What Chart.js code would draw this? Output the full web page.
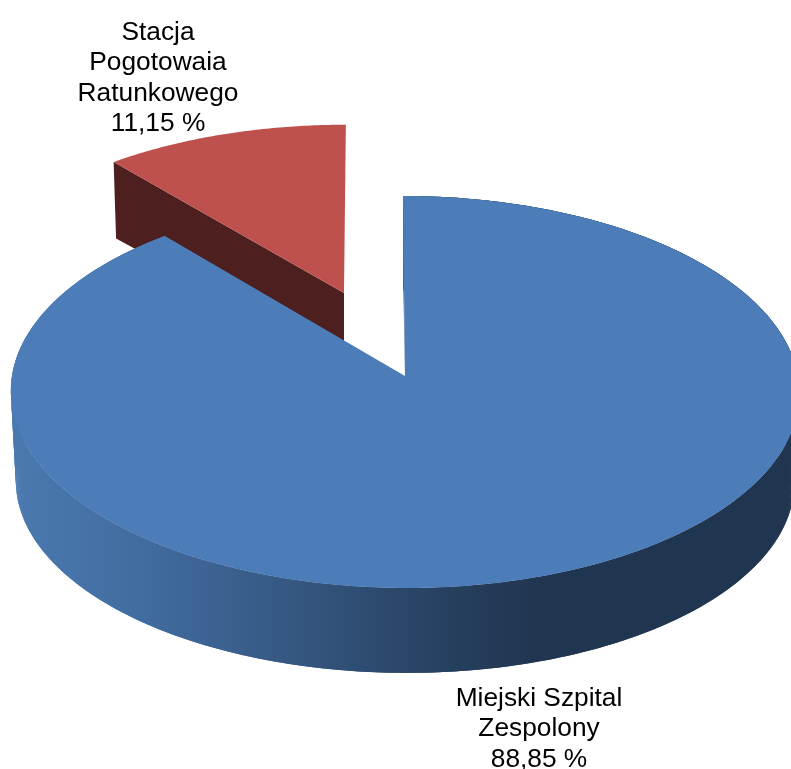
<!DOCTYPE html>
<html>
<head>
<meta charset="utf-8">
<style>html,body{margin:0;padding:0;background:#fff;overflow:hidden}canvas{display:block}</style>
<script src="https://cdn.jsdelivr.net/npm/chart.js@4"></script>
</head>
<body>
<canvas id="c" width="791" height="769"></canvas>
<script>
const categories = [["Miejski Szpital", "Zespolony"], ["Stacja", "Pogotowaia", "Ratunkowego"]];
const values = [88.85, 11.15];
const sliceColors = ["#4D7DB9", "#BE504D"];

const K = 0.0816;
const faces = [
  { top: {x:405, y:376, r:393, h:194.7, s:-2.2}, bottom: {x:405, y:466, r:388, h:190, s:-1.7}, anchor: {x:539, y:706} },
  { top: {x:344, y:293, r:382, h:182, s:2}, bottom: {x:344, y:363, r:378, h:173, s:2}, anchor: {x:158, y:40} }
];
function project(g, t) {
  const u = Math.sin(t), v = Math.cos(t), w = 1 + K * v;
  return { x: g.x + (g.r * u + g.s * v) / w, y: g.y - g.h * v / w };
}
function arcPath(ctx, g, a, b, moveFirst) {
  const n = Math.max(2, Math.ceil(Math.abs(b - a) / 0.01));
  for (let i = 0; i <= n; i++) {
    const p = project(g, a + (b - a) * i / n);
    if (i === 0 && moveFirst) ctx.moveTo(p.x, p.y); else ctx.lineTo(p.x, p.y);
  }
}
const pie3d = {
  id: 'pie3d',
  beforeDatasetDraw(chart, args) {
    const ctx = chart.ctx, arcs = args.meta.data;
    const range = el => [el.startAngle + Math.PI / 2, el.endAngle + Math.PI / 2];
    // red slice first, it sits behind the blue one
    const [ra, rb] = range(arcs[1]), rf = faces[1];
    const p0 = project(rf.top, ra), q0 = project(rf.bottom, ra);
    ctx.save();
    ctx.fillStyle = '#4D1F1E';
    ctx.beginPath();
    ctx.moveTo(rf.top.x, rf.top.y);
    ctx.lineTo(p0.x, p0.y);
    ctx.lineTo(q0.x, q0.y);
    ctx.lineTo(rf.bottom.x, rf.bottom.y);
    ctx.closePath();
    ctx.fill();
    ctx.fillStyle = sliceColors[1];
    ctx.beginPath();
    ctx.moveTo(rf.top.x, rf.top.y);
    arcPath(ctx, rf.top, ra, rb, false);
    ctx.closePath();
    ctx.fill();
    // blue slice: curved wall as overlapping strips, then the top face
    const [ba, bb] = range(arcs[0]), bf = faces[0];
    const grad = ctx.createLinearGradient(11, 0, 791, 0);
    grad.addColorStop(0, '#4A79B0');
    grad.addColorStop(0.17, '#416CA0');
    grad.addColorStop(0.38, '#34557E');
    grad.addColorStop(0.56, '#26405F');
    grad.addColorStop(0.68, '#20354F');
    grad.addColorStop(1, '#20354F');
    ctx.fillStyle = grad;
    const steps = Math.ceil((bb - ba) / 0.01);
    for (let i = 0; i < steps; i++) {
      const t1 = ba + (bb - ba) * i / steps;
      const t2 = ba + (bb - ba) * Math.min(i + 2, steps) / steps;
      const a1 = project(bf.top, t1), a2 = project(bf.top, t2);
      const b1 = project(bf.bottom, t1), b2 = project(bf.bottom, t2);
      ctx.beginPath();
      ctx.moveTo(a1.x, a1.y);
      ctx.lineTo(a2.x, a2.y);
      ctx.lineTo(b2.x, b2.y);
      ctx.lineTo(b1.x, b1.y);
      ctx.closePath();
      ctx.fill();
    }
    // thin visible part of the cut wall facing the gap
    const cutTop = project(bf.top, ba), cutBottom = project(bf.bottom, ba);
    ctx.fillStyle = '#2A4768';
    ctx.beginPath();
    ctx.moveTo(cutTop.x, cutTop.y);
    ctx.lineTo(cutBottom.x, cutBottom.y);
    ctx.lineTo(bf.top.x, bf.top.y);
    ctx.closePath();
    ctx.fill();
    ctx.fillStyle = sliceColors[0];
    ctx.beginPath();
    ctx.moveTo(bf.top.x, bf.top.y);
    arcPath(ctx, bf.top, ba, bb, false);
    ctx.closePath();
    ctx.fill();
    ctx.restore();
    return false;
  },
  afterDatasetsDraw(chart) {
    const ctx = chart.ctx;
    ctx.save();
    ctx.font = '26.3px "Liberation Sans", Arial, sans-serif';
    ctx.fillStyle = '#000';
    ctx.textAlign = 'center';
    ctx.textBaseline = 'alphabetic';
    categories.forEach((lines, i) => {
      const all = lines.concat(values[i].toFixed(2).replace('.', ',') + ' %');
      all.forEach((t, j) => ctx.fillText(t, faces[i].anchor.x, faces[i].anchor.y + j * 30.4));
    });
    ctx.restore();
  }
};
new Chart(document.getElementById('c'), {
  type: 'pie',
  data: { labels: categories, datasets: [{ data: values, backgroundColor: sliceColors, borderWidth: 0 }] },
  options: {
    responsive: false,
    animation: false,
    plugins: { legend: { display: false }, tooltip: { enabled: false } }
  },
  plugins: [pie3d]
});
</script>
</body>
</html>
